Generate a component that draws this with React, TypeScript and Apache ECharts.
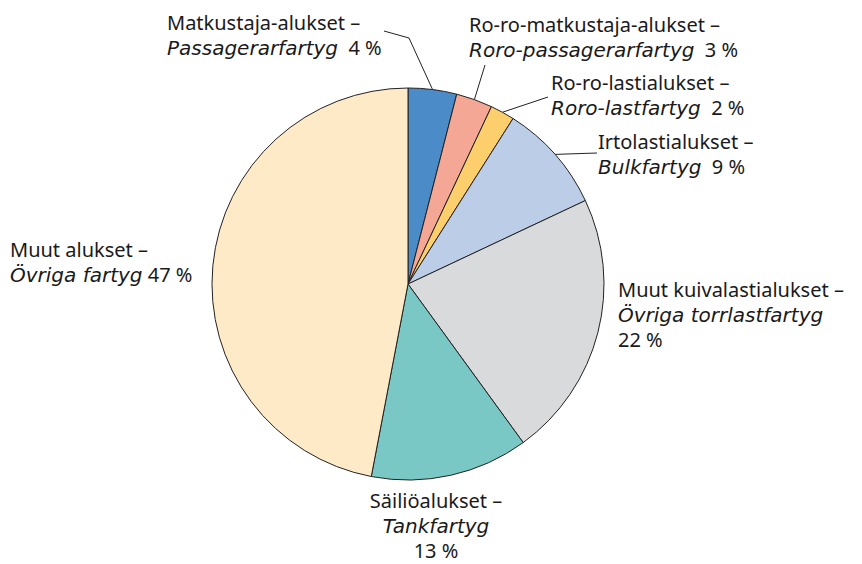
import React, { useEffect, useRef } from "react";
import * as echarts from "echarts";

const namesFi = [
  "Matkustaja-alukset",
  "Ro-ro-matkustaja-alukset",
  "Ro-ro-lastialukset",
  "Irtolastialukset",
  "Muut kuivalastialukset",
  "Säiliöalukset",
  "Muut alukset",
];
const namesSv = [
  "Passagerarfartyg",
  "Roro-passagerarfartyg",
  "Roro-lastfartyg",
  "Bulkfartyg",
  "Övriga torrlastfartyg",
  "Tankfartyg",
  "Övriga fartyg",
];
const shares = [4, 3, 2, 9, 22, 13, 47];
const colors = ["#4a8bc8", "#f3a794", "#fdcf6c", "#bccde8", "#d9dadc", "#7ac8c5", "#feeac7"];

// label layout: x, top, align, percent on own line, gap before percent, line end points
const labelPos: any[] = [
  { x: 167, y: 10, align: "left", own: false, gap: "  ", line: [[409, 38], [384, 31]] },
  { x: 469, y: 12, align: "left", own: false, gap: "  ", line: [[485, 65]] },
  { x: 551, y: 70, align: "left", own: false, gap: "  ", line: [[548, 97]] },
  { x: 598, y: 129, align: "left", own: false, gap: "  ", line: [[597, 153]] },
  { x: 618, y: 277, align: "left", own: true, gap: "", line: null },
  { x: 436, y: 488, align: "center", own: true, gap: "", line: null },
  { x: 10, y: 237, align: "left", own: false, gap: " ", line: null },
];

const FONT = "Noto Sans";
const IFONT = "DejaVu Sans";
const FS = 20;
const LH = 25;

export default function App() {
  const ref = useRef<HTMLDivElement>(null);
  useEffect(() => {
    const chart = echarts.init(ref.current!, null, { renderer: "svg" });
    const data = shares.map((v, i) => ({
      value: v,
      name: namesFi[i],
      itemStyle: { color: colors[i] },
      labelLine: { show: !!labelPos[i].line },
    }));
    chart.setOption({
      animation: false,
      series: [
        {
          type: "pie",
          center: [408, 284],
          radius: 196,
          startAngle: 90,
          clockwise: true,
          avoidLabelOverlap: false,
          itemStyle: { borderColor: "#222", borderWidth: 1 },
          emphasis: { disabled: true },
          label: {
            show: true,
            position: "outside",
            fontFamily: FONT,
            fontSize: FS,
            color: "#1a1a1a",
            lineHeight: LH,
            formatter: (p: any) => {
              const i = p.dataIndex;
              const lp = labelPos[i];
              const first = `{b|${namesFi[i]} –}`;
              if (lp.own) {
                return `${first}\n{i|${namesSv[i]}}\n{b|${shares[i]} %}`;
              }
              return `${first}\n{i|${namesSv[i]}}{b|${lp.gap}${shares[i]} %}`;
            },
            rich: {
              b: { fontFamily: FONT, fontSize: FS, color: "#1a1a1a", lineHeight: LH },
              i: { fontFamily: IFONT, fontSize: 20, fontStyle: "italic", color: "#1a1a1a", lineHeight: LH },
            },
          },
          labelLine: { lineStyle: { color: "#222", width: 1 } },
          labelLayout: (params: any) => {
            const lp = labelPos[params.dataIndex];
            const res: any = {
              x: lp.x,
              y: lp.y,
              align: lp.align,
              verticalAlign: "top",
            };
            if (lp.line && params.labelLinePoints) {
              res.labelLinePoints = [params.labelLinePoints[0], ...lp.line];
            }
            return res;
          },
          data,
        },
      ],
    });
    return () => chart.dispose();
  }, []);
  return (
    <div
      ref={ref}
      style={{ position: "fixed", left: 0, top: 0, width: 862, height: 564, background: "#fff" }}
    />
  );
}
